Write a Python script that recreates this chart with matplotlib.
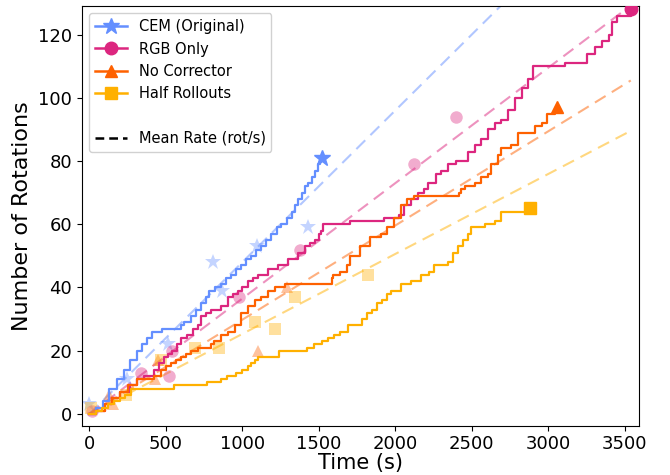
import matplotlib
matplotlib.use("Agg")
import matplotlib.pyplot as plt
from matplotlib.lines import Line2D
import numpy as np

# Step curves: (time, cumulative rotations) waypoints
cem_t = [0, 40, 92, 130, 180, 224, 268, 312, 345, 378, 410, 476, 597, 619, 663, 700, 729, 760,
         784, 820, 861, 895, 927, 960, 993, 1025, 1058, 1090, 1124, 1157, 1190, 1225, 1256, 1290,
         1322, 1345, 1366, 1390, 1410, 1432, 1454, 1476, 1495, 1509, 1520]
cem_n = [0, 2, 4, 8, 11, 14, 17, 20, 22, 24, 26, 27, 28, 29, 31, 33, 35, 37,
         39, 40, 41, 43, 44, 46, 47, 49, 50, 52, 53, 55, 57, 59, 60, 62,
         64, 66, 68, 70, 72, 73, 75, 77, 79, 80, 81]

rgb_t = [0, 40, 100, 150, 200, 268, 310, 360, 422, 455, 488, 515, 542, 570, 597, 641, 680, 707,
         729, 760, 795, 861, 904, 940, 970, 1000, 1036, 1070, 1102, 1168, 1234, 1300, 1366, 1410,
         1440, 1476, 1500, 1515, 1530, 1706, 1926, 2025, 2058, 2101, 2150, 2189, 2211, 2266, 2299,
         2343, 2398, 2475, 2519, 2562, 2606, 2650, 2694, 2738, 2782, 2826, 2870, 2903, 3112, 3254,
         3309, 3353, 3397, 3419, 3452, 3540]
rgb_n = [0, 1, 3, 5, 7, 9, 11, 12, 14, 16, 18, 19, 20, 22, 24, 25, 27, 28,
         31, 32, 33, 34, 37, 38, 39, 40, 42, 43, 44, 46, 47, 49, 51, 53,
         54, 55, 57, 58, 60, 61, 62, 63, 66, 68, 70, 71, 73, 76, 77,
         79, 80, 83, 85, 87, 90, 92, 93, 96, 100, 103, 106, 110, 111, 114,
         116, 118, 120, 124, 126, 128]

noc_t = [0, 40, 100, 150, 200, 250, 310, 422, 466, 500, 531, 565, 597, 630, 663, 707, 795, 817,
         861, 904, 949, 993, 1036, 1080, 1124, 1168, 1212, 1278, 1585, 1596, 1640, 1684, 1706, 1772,
         1838, 1904, 1948, 1991, 2036, 2080, 2123, 2420, 2431, 2453, 2519, 2562, 2606, 2628, 2672,
         2694, 2760, 2804, 2914, 2958, 2991, 3046, 3058]
noc_n = [0, 1, 3, 5, 7, 9, 11, 12, 14, 15, 16, 17, 18, 19, 20, 21, 22, 23,
         25, 26, 28, 32, 34, 36, 37, 39, 40, 41, 43, 44, 45, 47, 50, 53,
         56, 57, 59, 62, 66, 68, 69, 70, 71, 72, 73, 75, 76, 79, 82,
         84, 85, 89, 91, 92, 95, 96, 97]

half_t = [0, 40, 80, 120, 160, 200, 230, 270, 555, 770, 860, 900, 960, 1000, 1040, 1060, 1080,
          1100, 1240, 1420, 1470, 1520, 1560, 1600, 1640, 1690, 1783, 1815, 1849, 1880, 1915, 1945,
          1970, 2036, 2101, 2167, 2222, 2255, 2343, 2376, 2409, 2440, 2475, 2497, 2584, 2650, 2694,
          2880]
half_n = [0, 1, 2, 3, 4, 5, 6, 8, 9, 10, 11, 12, 13, 14, 15, 16, 17,
          18, 20, 21, 22, 23, 24, 25, 26, 28, 30, 32, 33, 35, 36, 38,
          39, 41, 42, 44, 45, 47, 48, 51, 53, 55, 57, 59, 60, 61, 64,
          65]

# Individual trial points (faded markers)
cem_pts_t = [0, 245, 517, 811, 866, 1095, 1432]
cem_pts_n = [3, 11, 22, 48, 39, 53, 59]
rgb_pts_t = [15, 340, 520, 540, 980, 1378, 2120, 2400]
rgb_pts_n = [1, 13, 12, 20, 37, 52, 79, 94]
noc_pts_t = [125, 155, 430, 450, 1105, 1290]
noc_pts_n = [6, 3, 11, 17, 20, 40]
half_pts_t = [10, 240, 465, 690, 845, 1085, 1215, 1345, 1825]
half_pts_n = [2, 6, 17, 21, 21, 29, 27, 37, 44]

# Mean rotation rates (rot/s)
mean_rates = [0.048, 0.0365, 0.0298, 0.0253]

labels = ["CEM (Original)", "RGB Only", "No Corrector", "Half Rollouts"]
colors = ["#648FFF", "#DC267F", "#FE6100", "#FFB000"]
markers = ["*", "o", "^", "s"]
msizes = [12, 9, 9, 8]

curves = [(cem_t, cem_n), (rgb_t, rgb_n), (noc_t, noc_n), (half_t, half_n)]
points = [(cem_pts_t, cem_pts_n), (rgb_pts_t, rgb_pts_n),
          (noc_pts_t, noc_pts_n), (half_pts_t, half_pts_n)]

fig = plt.figure(figsize=(6.7, 4.75), dpi=100)
ax = fig.add_axes([0.122, 0.104, 0.832, 0.883])

t_max = max(c[0][-1] for c in curves)
xs = np.array([0, t_max])

handles = []
for (t, n), (pt, pn), rate, lab, col, mk, ms in zip(curves, points, mean_rates,
                                                   labels, colors, markers, msizes):
    ax.plot(xs, rate * xs, color=col, alpha=0.5, lw=1.5, dashes=(6, 3.5), zorder=1)
    ax.step(t, n, where="post", color=col, lw=1.6, zorder=3)
    ax.plot(pt, pn, ls="none", marker=mk, color=col, alpha=0.38, ms=ms,
            markeredgewidth=0, zorder=2)
    ax.plot(t[-1], n[-1], ls="none", marker=mk, color=col, ms=ms, zorder=4)
    handles.append(Line2D([], [], color=col, marker=mk, ms=ms, lw=1.8, label=lab))

handles.append(Line2D([], [], color="none", label=" "))
handles.append(Line2D([], [], color="black", lw=1.8, dashes=(3.5, 2), label="Mean Rate (rot/s)"))

ax.set_xlim(-50, 3595)
ax.set_ylim(-3.7, 129)
ax.set_xticks(np.arange(0, 3501, 500))
ax.set_yticks(np.arange(0, 121, 20))
ax.tick_params(labelsize=13)
ax.set_xlabel("Time (s)", fontsize=15, labelpad=0)
ax.set_ylabel("Number of Rotations", fontsize=16)

ax.legend(handles=handles, loc="upper left", fontsize=10.5, framealpha=0.9,
          handlelength=2.2)

fig.savefig("out.png", dpi=100)
